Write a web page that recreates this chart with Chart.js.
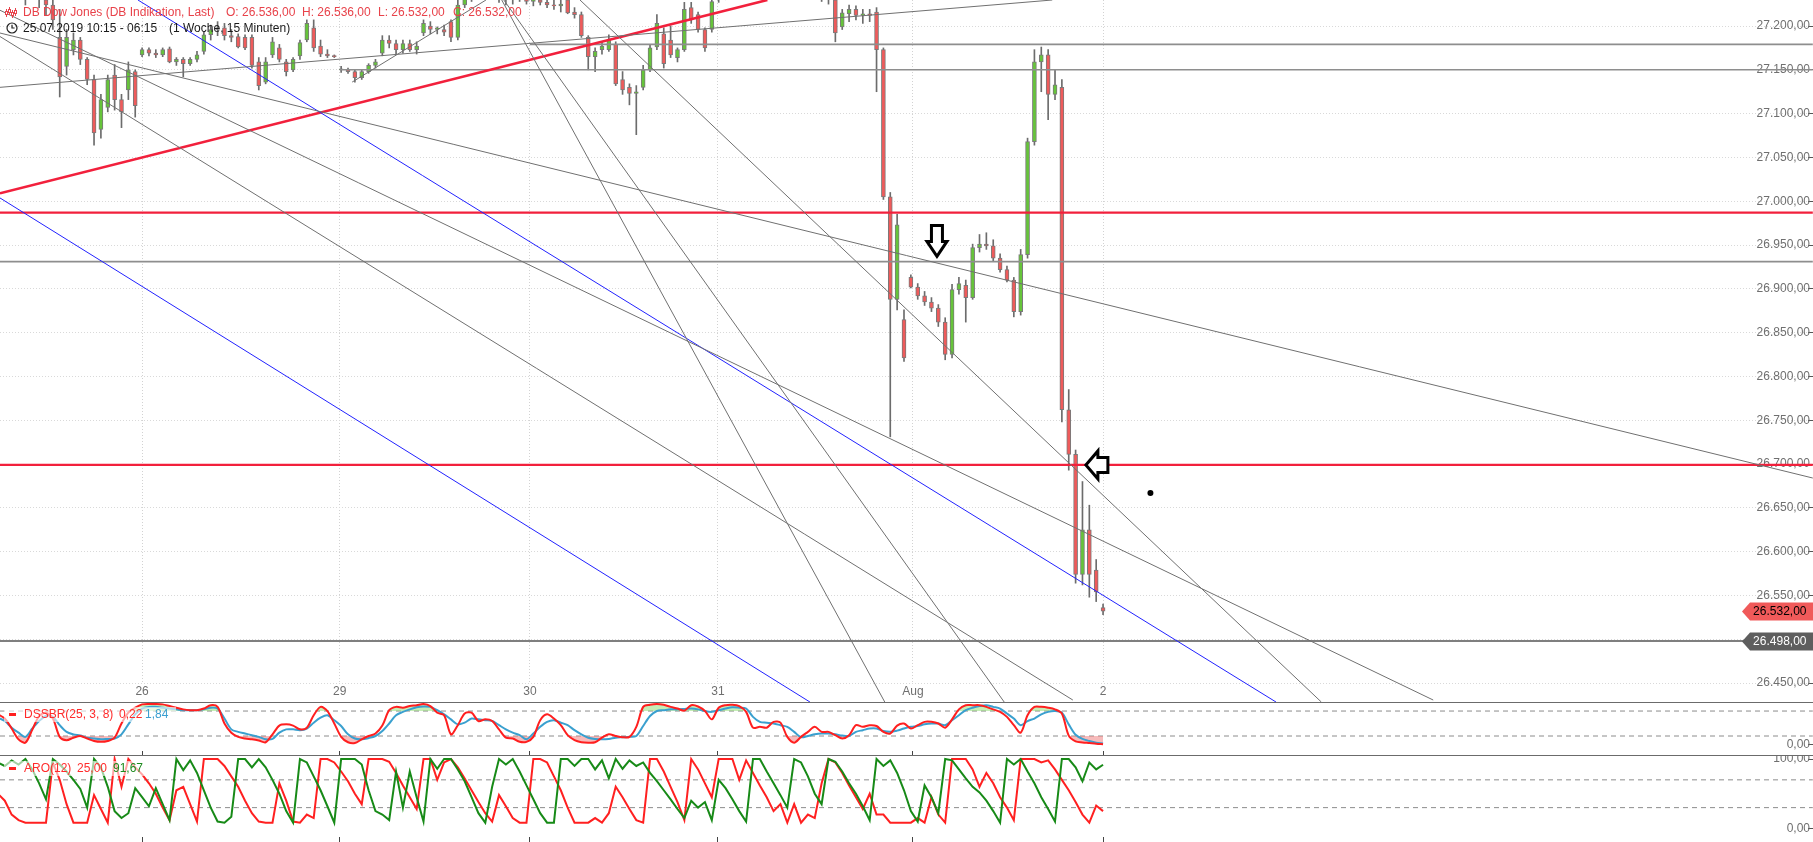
<!DOCTYPE html>
<html>
<head>
<meta charset="utf-8">
<script src="https://cdn.jsdelivr.net/npm/chart.js@4.4.1/dist/chart.umd.min.js"></script>
<style>
html, body { margin: 0; padding: 0; background: #fff; }
#wrap { position: relative; width: 1813px; height: 842px; overflow: hidden; font-family: Arial, "Liberation Sans", sans-serif; font-size: 12px; }
canvas { position: absolute; left: 0; }
.sep { position: absolute; left: 0; width: 1813px; height: 1px; background: #6b6b6b; }
.t { position: absolute; white-space: nowrap; line-height: 14px; }
.red { color: #e8424a; }
.box { position: absolute; background: rgba(255,255,255,0.6); }
.mark { position: absolute; width: 7px; height: 3px; background: #ff2020; }
</style>
</head>
<body>
<div id="wrap">
	<canvas id="price" width="1813" height="702" style="top:0"></canvas>
	<canvas id="dss" width="1813" height="53" style="top:702px"></canvas>
	<canvas id="aro" width="1813" height="87" style="top:755px"></canvas>
	<div class="sep" style="top:702px"></div>
	<div class="sep" style="top:755px"></div>

	<svg style="position:absolute;left:5px;top:6px" width="12" height="12" viewBox="0 0 12 12">
		<g stroke="#e8424a" stroke-width="1" fill="#fff">
			<line x1="1.5" y1="3" x2="1.5" y2="11"/><rect x="0.5" y="5.5" width="2" height="3"/>
			<line x1="4.5" y1="1" x2="4.5" y2="9"/><rect x="3.5" y="3.5" width="2" height="3"/>
			<line x1="7.5" y1="4" x2="7.5" y2="12"/><rect x="6.5" y="6.5" width="2" height="3"/>
			<line x1="10.5" y1="2" x2="10.5" y2="10"/><rect x="9.5" y="4.5" width="2" height="3"/>
		</g>
	</svg>
	<span class="t red" style="left:23px;top:5px">DB Dow Jones (DB Indikation, Last)</span>
	<span class="t red" style="left:226px;top:5px">O: 26.536,00</span>
	<span class="t red" style="left:302px;top:5px">H: 26.536,00</span>
	<span class="t red" style="left:378px;top:5px">L: 26.532,00</span>
	<span class="t red" style="left:453px;top:5px">C: 26.532,00</span>

	<svg style="position:absolute;left:6px;top:22px" width="12" height="12" viewBox="0 0 12 12">
		<circle cx="6" cy="6" r="5" stroke="#222" stroke-width="1.2" fill="none"/>
		<path d="M6 2.8 V6 H8.6" stroke="#222" stroke-width="1.2" fill="none"/>
	</svg>
	<span class="t" style="left:23px;top:21px;color:#1a1a1a">25.07.2019 10:15 - 06:15</span>
	<span class="t" style="left:169px;top:21px;color:#1a1a1a">(1 Woche, 15 Minuten)</span>

	<div class="box" style="left:4px;top:707px;width:172px;height:15px"></div>
	<div class="mark" style="left:9px;top:713px"></div>
	<span class="t" style="left:24px;top:707px;color:#ff2b2b">DSSBR(25, 3, 8)</span>
	<span class="t" style="left:119px;top:707px;color:#ff2b2b">0,22</span>
	<span class="t" style="left:145px;top:707px;color:#3a9fd0">1,84</span>

	<div class="box" style="left:4px;top:761px;width:144px;height:15px"></div>
	<div class="mark" style="left:9px;top:767px"></div>
	<span class="t" style="left:24px;top:761px;color:#ff2b2b">ARO(12)</span>
	<span class="t" style="left:77px;top:761px;color:#ff2b2b">25,00</span>
	<span class="t" style="left:113px;top:761px;color:#1d8a1d">91,67</span>
</div>

<script>
// 15-min candles (sampled), index = bar number
const open = [27264,27253,27259,27247,27241,27253,27239,27230,27224,27187,
	27154,27173,27184,27162,27139,27082,27107,27144,27116,27127,
	27148,27167,27173,27169,27167,27174,27159,27162,27157,27162,
	27171,27190,27196,27198,27189,27188,27187,27187,27159,27136,
	27167,27175,27159,27150,27166,27184,27198,27177,27168,27166,
	27150,27150,27148,27141,27148,27155,27169,27184,27180,27173,
	27180,27173,27192,27200,27196,27196,27205,27187,27224,27236,
	27241,27247,27253,27239,27236,27230,27233,27236,27228,27230,
	27227,27224,27223,27230,27216,27213,27187,27165,27173,27173,
	27179,27139,27130,27123,27130,27150,27176,27191,27184,27164,
	27173,27221,27213,27196,27196,27230,27236,27241,27247,27253,
	27251,27259,27253,27262,27259,27251,27255,27248,27244,27241,
	27237,27232,27230,27199,27214,27219,27212,27214,27216,27173,
	27005,26888,26865,26913,26902,26892,26885,26878,26862,26825,
	26899,26904,26890,26947,26951,26949,26935,26922,26910,26874,
	26939,27068,27159,27167,27122,27130,26762,26711,26574,26625,
	26579,26536];
const high = [27281,27270,27276,27264,27259,27264,27253,27247,27241,27219,
	27196,27192,27187,27164,27144,27122,27144,27156,27122,27159,
	27150,27175,27175,27173,27175,27176,27164,27164,27164,27171,
	27193,27201,27205,27203,27196,27191,27190,27190,27164,27164,
	27187,27179,27162,27164,27184,27207,27207,27184,27173,27167,
	27154,27152,27150,27150,27157,27162,27189,27189,27184,27184,
	27184,27182,27207,27205,27199,27201,27207,27232,27241,27247,
	27253,27259,27259,27247,27244,27239,27241,27244,27236,27237,
	27232,27230,27230,27236,27221,27216,27189,27175,27182,27190,
	27182,27148,27134,27132,27155,27179,27213,27198,27200,27175,
	27227,27227,27216,27198,27239,27241,27247,27253,27259,27264,
	27262,27270,27264,27273,27267,27262,27264,27257,27253,27251,
	27244,27239,27236,27219,27224,27223,27219,27219,27221,27175,
	27010,26985,26876,26916,26906,26897,26890,26882,26867,26905,
	26913,26910,26951,26962,26964,26956,26940,26926,26913,26945,
	27072,27173,27176,27173,27150,27139,26785,26716,26680,26653,
	26591,26540];
const low = [27247,27236,27241,27230,27224,27236,27221,27213,27196,27119,
	27144,27167,27156,27133,27064,27072,27102,27104,27084,27116,
	27096,27165,27166,27164,27165,27158,27155,27142,27155,27159,
	27168,27184,27189,27184,27182,27175,27173,27152,27127,27134,
	27164,27159,27143,27148,27162,27182,27171,27165,27164,27164,
	27147,27146,27136,27139,27146,27152,27166,27175,27168,27169,
	27171,27168,27189,27191,27191,27189,27182,27184,27221,27228,
	27232,27236,27233,27227,27224,27225,27228,27225,27223,27224,
	27221,27219,27216,27214,27209,27187,27150,27148,27168,27171,
	27132,27122,27110,27076,27127,27148,27173,27152,27164,27159,
	27171,27203,27193,27171,27193,27227,27230,27236,27239,27244,
	27241,27247,27244,27253,27247,27241,27246,27239,27235,27232,
	27228,27225,27182,27196,27205,27207,27203,27205,27125,27002,
	26731,26876,26817,26901,26888,26881,26874,26857,26819,26821,
	26894,26862,26888,26942,26945,26931,26919,26908,26868,26870,
	26935,27064,27125,27093,27116,26748,26693,26564,26562,26548,
	26543,26528];
const close = [27253,27259,27247,27241,27253,27239,27230,27224,27207,27142,
	27187,27184,27162,27139,27078,27116,27139,27116,27102,27150,
	27109,27173,27169,27167,27173,27159,27162,27157,27162,27167,
	27190,27196,27198,27189,27187,27176,27175,27155,27132,27159,
	27182,27162,27148,27162,27181,27203,27175,27168,27166,27165,
	27150,27148,27141,27148,27155,27159,27184,27180,27173,27180,
	27173,27177,27203,27196,27198,27193,27187,27224,27236,27241,
	27247,27253,27239,27236,27230,27233,27237,27228,27230,27227,
	27224,27223,27225,27215,27213,27189,27165,27171,27177,27184,
	27134,27127,27123,27125,27150,27175,27203,27157,27167,27173,
	27219,27207,27196,27175,27228,27236,27241,27247,27253,27251,
	27259,27253,27262,27259,27251,27255,27248,27244,27241,27237,
	27232,27230,27192,27215,27219,27212,27214,27212,27173,27005,
	26888,26973,26821,26902,26892,26885,26878,26862,26825,26899,
	26906,26890,26947,26951,26949,26935,26922,26910,26874,26939,
	27068,27159,27167,27122,27133,26762,26711,26574,26625,26574,
	26554,26532];

// DSS Bressert (25, 3, 8): main (red) and signal (blue)
const dssMain = [72,62,38,12,4,35,68,76,62,18,
	10,16,20,14,8,6,8,16,50,76,
	88,96,97,97,96,92,88,84,82,82,
	86,94,90,50,28,18,14,12,9,5,
	24,45,48,45,36,40,70,90,80,50,
	18,5,3,12,20,26,45,82,90,88,
	92,94,97,92,76,70,24,46,74,76,
	56,60,56,36,16,14,6,
	6,18,58,72,62,46,22,10,5,4,
	5,16,24,20,17,18,42,90,95,97,
	95,90,86,81,94,91,80,60,88,94,
	95,92,78,40,42,40,54,52,18,4,
	18,30,42,30,30,22,14,22,46,42,
	46,44,30,26,45,50,38,46,54,54,
	50,40,60,84,94,94,94,90,84,78,
	66,46,28,70,90,90,
	88,84,74,21,7,4.6,3,1.3,0.22];
const dssSignal = [64,56,40,28,18,38,56,68,66,46,
	30,24,21,16,14,12,13,14,24,48,
	72,86,90,90,88,86,84,82,82,82,
	84,88,86,62,36,30,26,22,18,12,
	13,28,36,36,34,38,52,64,70,58,
	44,24,14,12,15,20,32,50,70,78,
	84,89,91,90,82,72,60,48,52,62,
	60,58,56,46,36,28,22,
	12,26,42,54,58,52,46,34,24,16,
	13,12,13,16,17,18,20,44,68,80,
	82,84,84,85,86,84,80,78,82,86,
	89,88,86,66,54,52,50,46,42,30,
	17,20,24,26,26,24,21,20,30,34,
	38,38,32,30,33,38,42,44,48,50,
	50,46,58,70,82,88,92,94,90,86,
	74,62,46,56,62,72,
	78,80,76,48,23,13,8,4,1.84];

// Aroon (12): red and green lines
const aroonRed = [50,40,20,12,8.33,8.33,8.33,8.33,95,70,
	35,8.33,8.33,8.33,48,28,8.33,100,60,100,
	88,78,65,50,30,12,55,60,35,10,
	100,100,100,90,75,60,40,22,10,8.33,
	8.33,65,40,10,8.33,20,15,100,100,95,
	82,68,50,35,100,100,100,96,80,62,
	45,28,100,100,70,95,100,88,72,55,
	38,22,10,48,32,15,8.33,
	8.33,100,100,95,75,55,30,8.33,8.33,8.33,
	15,8.33,22,60,45,28,12,8.33,100,100,
	82,60,38,12,100,85,65,45,100,100,
	100,70,98,80,62,45,25,35,8.33,35,
	8.33,20,15,65,100,95,80,62,45,28,
	50,20,20,8.33,8.33,8.33,8.33,15,8.33,45,
	20,8.33,100,100,100,85,60,80,65,45,
	30,12,100,100,100,95,
	98,85,70,55,38,20,8.33,33,25];
const aroonGreen = [95,90,98,92,100,85,65,42,100,92,
	82,70,57,30,100,88,60,25,15,22,
	58,45,32,58,35,12,100,84,98,80,
	55,30,10,8.33,17,100,100,88,100,88,
	70,50,25,8.33,100,95,75,55,32,8.33,
	100,100,100,92,55,25,20,12,82,30,
	82,45,10,100,86,100,100,85,68,45,
	22,8.33,60,100,92,100,82,
	62,42,22,8.33,8.33,100,100,90,100,100,
	85,98,72,100,86,98,90,95,80,68,
	55,42,28,15,40,30,38,12,70,58,
	42,25,10,100,100,82,65,48,30,100,
	95,75,50,35,100,96,82,65,50,32,
	12,100,90,98,80,55,25,10,62,45,
	22,100,98,85,72,60,52,40,25,8.33,
	100,92,100,82,65,45,
	28,10,100,100,88,68,95,85,91.67];

// axes
const xMin = 0.3, xMax = 263.7, lineEnd = 264.4;
const priceMin = 26448.9, priceMax = 27229.7;
const dayStarts = [21, 49.8, 77.5, 104.9, 133.3, 161];
const dayLabels = ['26', '29', '30', '31', 'Aug', '2'];
const priceTicks = [26450, 26500, 26550, 26600, 26650, 26700, 26750, 26800,
	26850, 26900, 26950, 27000, 27050, 27100, 27150, 27200];
const dssTicks = [0];
const dssLevels = [20, 80];
const aroTicks = [0, 100];
const aroLevels = [30, 70];

// drawings on the price panel: [x1, price1, x2, price2]
const grayTrends = [
	[0.3, 27130, 153.6, 27229.7],
	[0.3, 27192, 264.4, 26684],
	[0.3, 27218, 209.1, 26430.6],
	[0.3, 27188, 156.6, 26430.6],
	[73.4, 27229.7, 129.2, 26428.3],
	[73.7, 27229.7, 146.6, 26428.3],
	[84.8, 27229.7, 192.8, 26428.3],
	[51.6, 27136, 71.1, 27229.7]
];
const blueTrends = [
	[20.4, 27229.7, 186.2, 26428.3],
	[0.3, 27003.7, 118.3, 26428.3]
];
const redTrends = [[0.3, 27009, 112.1, 27229.7]];
const grayLevels = [[77.5, 27179], [49.8, 27150], [0.3, 26931]];
const redLevels = [26987, 26699];
const lastLevel = 26498;
const lastPrice = 26532;
const downArrowAt = [136.8, 26937];
const leftArrowAt = [158.5, 26699];
const dotAt = [167.9, 26667];

Chart.defaults.font.family = 'Arial, "Liberation Sans", sans-serif';
Chart.defaults.font.size = 12;
Chart.defaults.color = '#6f6f6f';

const fmtDE = v => {
	const s = Math.abs(v).toFixed(2).split('.');
	return (v < 0 ? '-' : '') + s[0].replace(/\B(?=(\d{3})+(?!\d))/g, '.') + ',' + s[1];
};
const pts = arr => arr.map((v, i) => ({ x: i, y: v }));

const seg = (a, color, width) => ({
	type: 'line',
	data: [{ x: a[0], y: a[1] }, { x: a[2], y: a[3] }],
	borderColor: color, borderWidth: width,
	pointRadius: 0, clip: false, order: 0
});
const flat = (x0, v, color, width) => seg([x0, v, lineEnd, v], color, width);

// no edge padding for tick labels: the axes sit flush with the panel edges
const noPad = s => { s.paddingTop = 0; s.paddingBottom = 0; s.paddingLeft = 0; s.paddingRight = 0; };

const baseOptions = (yMin, yMax, xHeight) => ({
	responsive: false,
	animation: false,
	events: [],
	layout: { padding: 0, autoPadding: false },
	plugins: { legend: { display: false }, tooltip: { enabled: false } },
	scales: {
		x: {
			type: 'linear', min: xMin, max: xMax, offset: false, bounds: 'data',
			afterBuildTicks: s => { s.ticks = dayStarts.map(v => ({ value: v })); },
			afterFit: s => { s.height = xHeight; noPad(s); },
			ticks: { display: false, autoSkip: false, maxRotation: 0 },
			grid: { drawOnChartArea: false, drawTicks: true, tickLength: xHeight, tickColor: '#444', offset: false },
			border: { display: false }
		},
		y: {
			position: 'right', min: yMin, max: yMax, bounds: 'data',
			afterFit: s => { s.width = 5; noPad(s); },
			ticks: { mirror: true, padding: 2, callback: v => fmtDE(v) },
			grid: { drawOnChartArea: false, drawTicks: true, tickLength: 5, tickColor: '#555' },
			border: { display: false }
		}
	}
});

// price tags + hand drawn marks
const marks = {
	id: 'marks',
	afterDatasetsDraw(chart) {
		const { ctx, scales: { x, y } } = chart;
		const W = chart.width;
		ctx.save();

		const tag = (value, fill, text) => {
			const py = Math.round(y.getPixelForValue(value)) + 0.5;
			ctx.beginPath();
			ctx.moveTo(W - 71, py);
			ctx.lineTo(W - 63, py - 9);
			ctx.lineTo(W, py - 9);
			ctx.lineTo(W, py + 9);
			ctx.lineTo(W - 63, py + 9);
			ctx.closePath();
			ctx.fillStyle = fill;
			ctx.fill();
			ctx.fillStyle = text;
			ctx.font = '12px Arial, "Liberation Sans", sans-serif';
			ctx.textAlign = 'right';
			ctx.textBaseline = 'middle';
			ctx.fillText(fmtDE(value), W - 6.5, py + 0.5);
		};
		tag(lastPrice, '#f05a5a', '#000');
		tag(lastLevel, '#5e5e5e', '#fff');

		ctx.lineWidth = 3;
		ctx.lineJoin = 'miter';
		ctx.strokeStyle = '#000';
		ctx.fillStyle = '#fff';

		let tx = x.getPixelForValue(downArrowAt[0]);
		let ty = y.getPixelForValue(downArrowAt[1]);
		ctx.beginPath();
		ctx.moveTo(tx, ty);
		ctx.lineTo(tx + 10, ty - 15);
		ctx.lineTo(tx + 5.5, ty - 15);
		ctx.lineTo(tx + 5.5, ty - 31);
		ctx.lineTo(tx - 5.5, ty - 31);
		ctx.lineTo(tx - 5.5, ty - 15);
		ctx.lineTo(tx - 10, ty - 15);
		ctx.closePath();
		ctx.fill();
		ctx.stroke();

		tx = x.getPixelForValue(leftArrowAt[0]);
		ty = y.getPixelForValue(leftArrowAt[1]);
		ctx.beginPath();
		ctx.moveTo(tx, ty);
		ctx.lineTo(tx + 12, ty - 14);
		ctx.lineTo(tx + 12, ty - 7.5);
		ctx.lineTo(tx + 22, ty - 7.5);
		ctx.lineTo(tx + 22, ty + 7.5);
		ctx.lineTo(tx + 12, ty + 7.5);
		ctx.lineTo(tx + 12, ty + 14);
		ctx.closePath();
		ctx.fill();
		ctx.stroke();

		ctx.beginPath();
		ctx.arc(x.getPixelForValue(dotAt[0]), y.getPixelForValue(dotAt[1]), 3, 0, Math.PI * 2);
		ctx.fillStyle = '#000';
		ctx.fill();
		ctx.restore();
	}
};

// price panel
const priceOpts = baseOptions(priceMin, priceMax, 18);
priceOpts.scales.x.ticks = {
	display: true, autoSkip: false, maxRotation: 0, padding: 0, color: '#6f6f6f',
	callback: (v, i) => dayLabels[i]
};
priceOpts.scales.x.grid = { color: '#d2d2d2', drawTicks: false, offset: false };
priceOpts.scales.x.border = { display: false, dash: [1, 2] };
priceOpts.scales.y.afterBuildTicks = s => { s.ticks = priceTicks.map(v => ({ value: v })); };
priceOpts.scales.y.grid = { color: '#d9d9d9', drawOnChartArea: true, drawTicks: true, tickLength: 5, tickColor: '#555' };
priceOpts.scales.y.border = { display: false, dash: [1, 2] };

new Chart(document.getElementById('price'), {
	type: 'bar',
	data: {
		datasets: [
			...grayTrends.map(a => seg(a, '#707070', 1)),
			...blueTrends.map(a => seg(a, '#2222ff', 1)),
			...redTrends.map(a => seg(a, '#f2203c', 2.6)),
			...grayLevels.map(l => flat(l[0], l[1], '#8e8e8e', 1.6)),
			...redLevels.map(v => flat(xMin, v, '#f2203c', 2.4)),
			flat(xMin, lastLevel, '#555', 1.3),
			{
				type: 'bar',
				data: open.map((o, i) => ({ x: i, y: [o, close[i]] })),
				backgroundColor: c => close[c.dataIndex] >= open[c.dataIndex] ? '#66c43a' : '#ef5b5b',
				borderColor: '#7a7a7a', borderWidth: 1, borderSkipped: false,
				barThickness: 4, minBarLength: 1, grouped: false, order: 1
			},
			{
				type: 'bar',
				data: low.map((l, i) => ({ x: i, y: [l, high[i]] })),
				backgroundColor: '#6c6c6c',
				barThickness: 1, grouped: false, order: 2
			}
		]
	},
	options: priceOpts,
	plugins: [marks]
});

// DSSBR panel
const dssOpts = baseOptions(-16, 101.7, 4);
dssOpts.scales.y.afterBuildTicks = s => { s.ticks = dssTicks.map(v => ({ value: v })); };
new Chart(document.getElementById('dss'), {
	type: 'line',
	data: {
		datasets: [
			{ data: pts(dssMain), borderColor: '#ff1f1f', borderWidth: 2, pointRadius: 0, tension: 0.3, order: 0 },
			{ data: pts(dssSignal), borderColor: '#3aa0cf', borderWidth: 2, pointRadius: 0, tension: 0.3, order: 1 },
			{ data: pts(dssMain), borderColor: 'rgba(0,0,0,0)', borderWidth: 1, pointRadius: 0, tension: 0.3, order: 3,
				fill: { target: { value: 80 }, above: 'rgba(140,220,110,0.5)', below: 'rgba(0,0,0,0)' } },
			{ data: pts(dssMain), borderColor: 'rgba(0,0,0,0)', borderWidth: 1, pointRadius: 0, tension: 0.3, order: 3,
				fill: { target: { value: 20 }, above: 'rgba(0,0,0,0)', below: 'rgba(240,120,120,0.5)' } },
			...dssLevels.map(v => ({ data: [{ x: xMin, y: v }, { x: lineEnd, y: v }], borderColor: '#8c8c8c', borderWidth: 1,
				borderDash: [5, 4], pointRadius: 0, clip: false, order: 4 }))
		]
	},
	options: dssOpts
});

// Aroon panel
const aroOpts = baseOptions(-12.26, 105.76, 5);
aroOpts.scales.y.afterBuildTicks = s => { s.ticks = aroTicks.map(v => ({ value: v })); };
new Chart(document.getElementById('aro'), {
	type: 'line',
	data: {
		datasets: [
			{ data: pts(aroonGreen), borderColor: '#178a17', borderWidth: 2, pointRadius: 0, tension: 0, order: 0 },
			{ data: pts(aroonRed), borderColor: '#ff2020', borderWidth: 2, pointRadius: 0, tension: 0, order: 1 },
			...aroLevels.map(v => ({ data: [{ x: xMin, y: v }, { x: lineEnd, y: v }], borderColor: '#8c8c8c', borderWidth: 1,
				borderDash: [5, 4], pointRadius: 0, clip: false, order: 4 }))
		]
	},
	options: aroOpts
});
</script>
</body>
</html>
